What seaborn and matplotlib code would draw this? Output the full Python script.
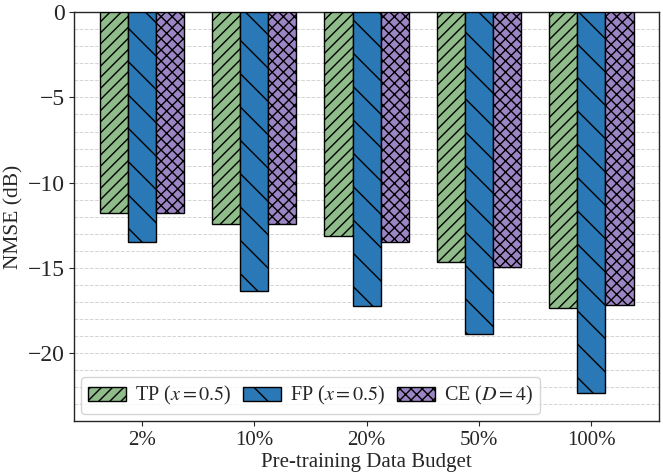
import numpy as np
import pandas as pd
import matplotlib
matplotlib.use("Agg")
import matplotlib.pyplot as plt
import seaborn as sns
from matplotlib.ticker import MultipleLocator

budgets = ["2%", "10%", "20%", "50%", "100%"]
series = ["TP ($x=0.5$)", "FP ($x=0.5$)", "CE ($D=4$)"]
tp_vals = [-11.8, -12.4, -13.1, -14.65, -17.35]
fp_vals = [-13.5, -16.35, -17.25, -18.85, -22.35]
ce_vals = [-11.8, -12.45, -13.5, -14.97, -17.2]

colors = ["#8fbc8a", "#2a78b5", "#9b85c4"]
hatches = ["///", "\\", "xxx"]

df = pd.DataFrame({
    "budget": budgets * 3,
    "method": [s for s in series for _ in budgets],
    "nmse": tp_vals + fp_vals + ce_vals,
})

sns.set_style("ticks")
plt.rcParams["font.family"] = ["Liberation Serif", "DejaVu Serif"]
plt.rcParams["mathtext.fontset"] = "stix"
plt.rcParams["hatch.linewidth"] = 1.0

f, ax = plt.subplots(figsize=(6.63, 4.76), dpi=100)
sns.barplot(data=df, x="budget", y="nmse", hue="method", palette=colors,
            saturation=1, width=0.75, edgecolor="black", linewidth=1.0,
            ax=ax, zorder=3)

for i, cont in enumerate(ax.containers):
    for p in cont:
        p.set_hatch(hatches[i])

ax.set_ylim(-24, 0)
ax.set_xlim(-0.6, 4.6)
ax.yaxis.set_major_locator(MultipleLocator(5))
ax.yaxis.set_minor_locator(MultipleLocator(1))
ax.tick_params(axis="y", which="minor", length=0)
ax.tick_params(axis="x", labelsize=15)
ax.tick_params(axis="y", labelsize=17)
ax.grid(axis="y", which="both", linestyle="--", color="#d4d4d4", linewidth=0.7, zorder=0)
ax.set_axisbelow(True)
ax.set_xlabel("Pre-training Data Budget", fontsize=15, labelpad=2)
ax.set_ylabel("NMSE (dB)", fontsize=15.5, labelpad=3)

handles, labels = ax.get_legend_handles_labels()
for h, ht in zip(handles, hatches):
    h.set_hatch(ht)
    h.set_edgecolor("black")
ax.legend(handles, labels, loc="lower left", ncol=3, fontsize=14.5, frameon=True,
          handlelength=1.85, handleheight=0.7, handletextpad=0.45,
          columnspacing=0.6, borderpad=0.35, borderaxespad=0.35)
for s in ax.spines.values():
    s.set_linewidth(1.0)

plt.tight_layout(pad=0.3)
plt.savefig("out.png", dpi=100)
